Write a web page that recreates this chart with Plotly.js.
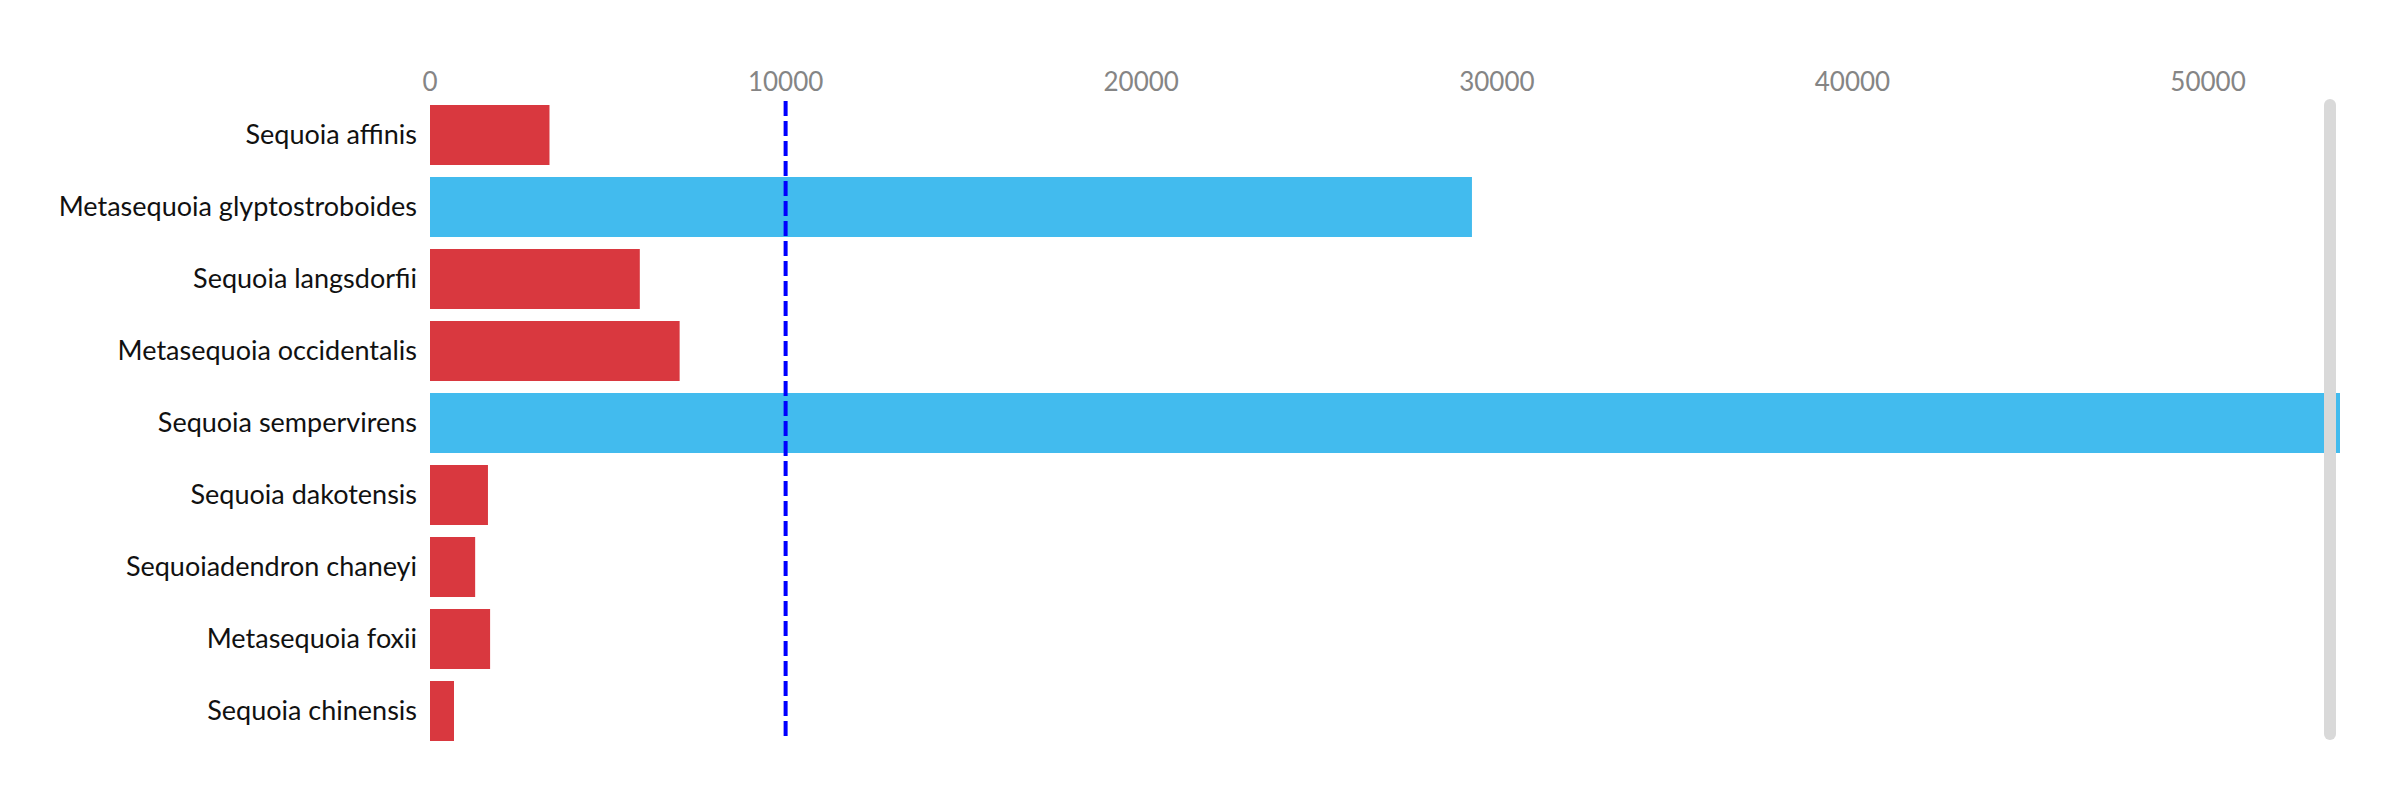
<!DOCTYPE html>
<html>
<head>
<meta charset="utf-8">
<script src="https://cdn.plot.ly/plotly-3.0.1.min.js"></script>
<style>html,body{margin:0;padding:0;background:#fff;}#chart{width:2400px;height:800px;}</style>
</head>
<body>
<div id="chart"></div>
<script>
const species = [
  "Sequoia affinis",
  "Metasequoia glyptostroboides",
  "Sequoia langsdorfii",
  "Metasequoia occidentalis",
  "Sequoia sempervirens",
  "Sequoia dakotensis",
  "Sequoiadendron chaneyi",
  "Metasequoia foxii",
  "Sequoia chinensis"
];
const values = [3360, 29300, 5900, 7020, 53710, 1630, 1270, 1690, 675];
const threshold = 10000;
const tickValues = [0, 10000, 20000, 30000, 40000, 50000];

const RED = "#d9383f";
const BLUE = "#42bbee";
const colors = values.map(v => v > threshold ? BLUE : RED);

const W = 2400, H = 800;
const mL = 430, mR = 60, mT = 99, mB = 53;
const pw = W - mL - mR, ph = H - mT - mB;
// helpers for paper coords of the decorative gray bar
const px = x => (x - mL) / pw;
const py = y => (H - mB - y) / ph;

const barX = 2330, barHalf = 6, barTop = 99, barBot = 740;
const shapes = [
  {
    type: "line", xref: "x", yref: "paper",
    x0: threshold, x1: threshold, y0: py(736), y1: py(101),
    line: {color: "#0000ff", width: 4, dash: "15px,5px"}
  },
  {
    type: "rect", xref: "paper", yref: "paper",
    x0: px(barX - barHalf), x1: px(barX + barHalf),
    y0: py(barBot - barHalf), y1: py(barTop + barHalf),
    fillcolor: "#d9d9d9", line: {width: 0}, layer: "above"
  },
  {
    type: "circle", xref: "paper", yref: "paper",
    x0: px(barX - barHalf), x1: px(barX + barHalf),
    y0: py(barTop + 2 * barHalf), y1: py(barTop),
    fillcolor: "#d9d9d9", line: {width: 0}, layer: "above"
  },
  {
    type: "circle", xref: "paper", yref: "paper",
    x0: px(barX - barHalf), x1: px(barX + barHalf),
    y0: py(barBot), y1: py(barBot - 2 * barHalf),
    fillcolor: "#d9d9d9", line: {width: 0}, layer: "above"
  }
];

const trace = {
  type: "bar",
  orientation: "h",
  y: species,
  x: values,
  marker: {color: colors, line: {width: 0}},
  hoverinfo: "x+y"
};

const layout = {
  width: W, height: H,
  margin: {l: mL, r: mR, t: mT, b: mB, pad: 0},
  paper_bgcolor: "#ffffff",
  plot_bgcolor: "#ffffff",
  showlegend: false,
  bargap: 0.17,
  font: {family: "Lato, 'Source Sans Pro', sans-serif", size: 27, color: "#111111"},
  xaxis: {
    side: "top",
    range: [0, 53710],
    tickvals: tickValues,
    ticktext: tickValues.map(String),
    showgrid: false, zeroline: false, showline: false,
    ticks: "",
    tickfont: {family: "Lato, sans-serif", size: 26, color: "#858585"},
    ticklabelstandoff: 2
  },
  yaxis: {
    autorange: "reversed",
    showgrid: false, zeroline: false, showline: false,
    ticks: "",
    tickfont: {family: "Lato, sans-serif", size: 27, color: "#111111"},
    ticklabelstandoff: 12
  },
  shapes: shapes
};

Plotly.newPlot("chart", [trace], layout, {displayModeBar: false, staticPlot: true});
</script>
</body>
</html>
